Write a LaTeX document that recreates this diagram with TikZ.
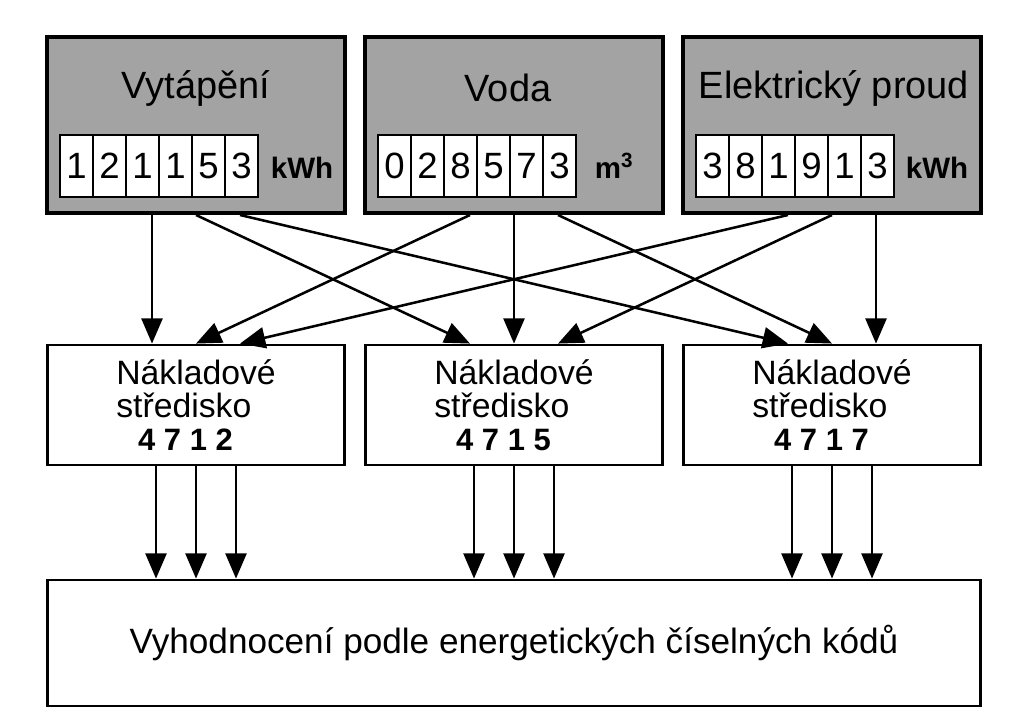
\documentclass[tikz,border=0pt]{standalone}
\usepackage{fontspec}
\setmainfont{Liberation Sans}
\usetikzlibrary{arrows.meta,calc}
\definecolor{metergray}{RGB}{163,163,163}

\begin{document}
\begin{tikzpicture}[x=0.025cm, y=-0.025cm,
  meter/.style={draw=black, line width=2.8pt, fill=metergray, minimum width=7.45cm, minimum height=4.4cm, inner sep=0pt},
  metertitle/.style={font=\fontsize{27}{27}\selectfont, inner sep=0pt},
  digitcell/.style={draw=black, line width=1.6pt, fill=white, minimum width=0.825cm, minimum height=1.55cm, inner sep=0pt, font=\fontsize{26}{26}\selectfont},
  unitlbl/.style={font=\fontsize{21}{21}\selectfont\bfseries, inner sep=0pt},
  costbox/.style={draw=black, line width=2pt, fill=white, minimum width=7.425cm, minimum height=3cm, align=left, font=\fontsize{24}{23.5}\selectfont},
  evalbox/.style={draw=black, line width=2pt, fill=white, minimum width=23.3cm, minimum height=3.15cm, font=\fontsize{25}{25}\selectfont},
  arr/.style={line width=1.8pt, -{Triangle[length=18pt, width=15pt]}}
]
\useasboundingbox (0,0) rectangle (1012,718);

% meters
\node[meter] (heat) at (196,125) {};
\node[meter] (water) at (514,125) {};
\node[meter] (power) at (832,125) {};

\node[metertitle] (heatT) at (196,88) {Vytápění};
\node[metertitle] (waterT) at (508,88) {Voda};
\node[metertitle] (powerT) at (834,88) {Elektrický proud};

% counter digits
\foreach \m/\ds in {heat/{1,2,1,1,5,3}, water/{0,2,8,5,7,3}, power/{3,8,1,9,1,3}}
  \foreach \d [count=\k from 0] in \ds
    \node[digitcell] (\m-d\k) at ($(\m)+(-119.5+33*\k,41)$) {\d};

\node[unitlbl] (heatU) at ($(heat)+(106,43)$) {kWh};
\node[unitlbl] (waterU) at ($(water)+(100,41)$) {m\textsuperscript{3}};
\node[unitlbl] (powerU) at ($(power)+(105,43)$) {kWh};

% cost centres
\node[costbox] (cc1) at (196,405) {Nákladové\\středisko\\\hspace*{0.65em}{\fontsize{22}{23.5}\selectfont\bfseries 4 7 1 2}};
\node[costbox] (cc2) at (514,405) {Nákladové\\středisko\\\hspace*{0.65em}{\fontsize{22}{23.5}\selectfont\bfseries 4 7 1 5}};
\node[costbox] (cc3) at (832,405) {Nákladové\\středisko\\\hspace*{0.65em}{\fontsize{22}{23.5}\selectfont\bfseries 4 7 1 7}};

% evaluation
\node[evalbox] (eval) at (514,643) {Vyhodnocení podle energetických číselných kódů};

% meters -> cost centres
\foreach \s [count=\i] in {heat,water,power}
  \foreach \t [count=\j] in {cc1,cc2,cc3}
    \draw[arr] ($(\s.south)+(44*\j-88,0)$) -- ($(\t.north)+(44*\i-88,0)$);

% cost centres -> evaluation
\foreach \t in {cc1,cc2,cc3}
  \foreach \k in {-40,0,40}
    \draw[arr] ($(\t.south)+(\k,0)$) -- ($(\t.south |- eval.north)+(\k,0)$);
\end{tikzpicture}
\end{document}
